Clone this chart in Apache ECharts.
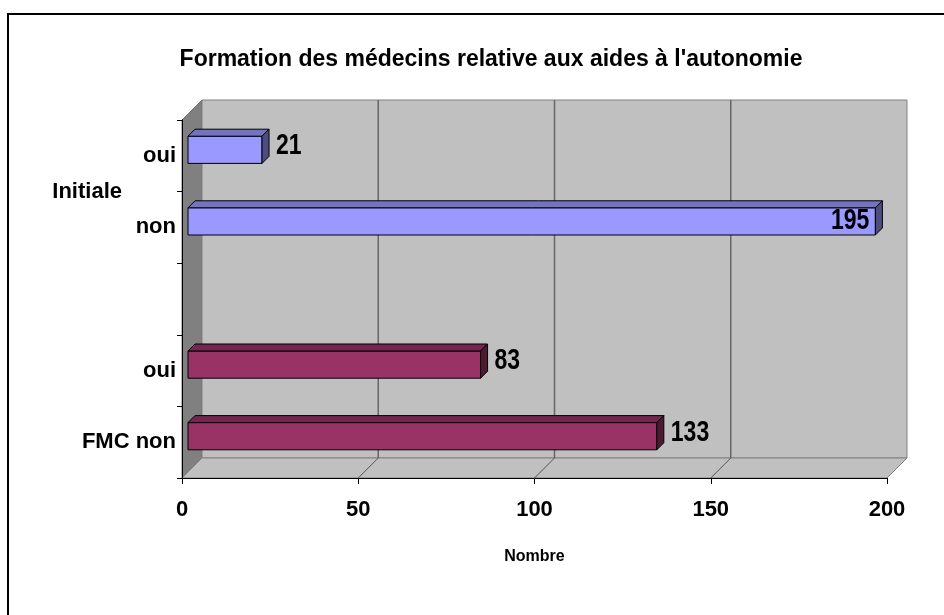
<!DOCTYPE html>
<html>
<head>
<meta charset="utf-8">
<script src="https://cdn.jsdelivr.net/npm/echarts@6/dist/echarts.min.js"></script>
<style>
  html, body { margin: 0; padding: 0; background: #ffffff; }
  #chart { width: 944px; height: 615px; }
</style>
</head>
<body>
<div id="chart"></div>
<script>
// ---- data ----
const titleText = "Formation des médecins relative aux aides à l'autonomie";
const axisName = 'Nombre';
// category rows, bottom to top
const categories = ['FMC non', 'oui', '', 'non', 'oui'];
// group caption drawn between two rows
const groupLabel = 'Initiale';
const groupRows = [3, 4];
const fmcValues = [133, 83, null, null, null];
const initialeValues = [null, null, null, 195, 21];
const xTicks = [0, 50, 100, 150, 200];

// ---- look ----
const FONT = "'Liberation Sans', Arial, sans-serif";
const DEPTH = 20;      // depth of the 3D walls, drawn at 45 degrees
const BAR_FRONT = 6;   // bar front face position inside that depth
const BAR_BACK = 13;   // bar back face position inside that depth
const BAR_RATIO = 0.38;

const xMin = xTicks[0];
const xMax = xTicks[xTicks.length - 1];
const xStep = xTicks[1] - xTicks[0];

function toPairs(values) {
  return values.map((v, i) => (v == null ? null : [v, i])).filter(Boolean);
}

// back wall, side wall, floor and the gridlines projected on them
function renderWalls(params, api) {
  const cs = params.coordSys;
  const gx = cs.x, gy = cs.y, gw = cs.width, gh = cs.height;
  const d = DEPTH;
  const wallStroke = '#808080';
  const children = [
    { type: 'polygon', shape: { points: [[gx, gy], [gx + d, gy - d], [gx + d, gy + gh - d], [gx, gy + gh]] },
      style: { fill: '#808080', stroke: '#707070', lineWidth: 1 } },
    { type: 'rect', shape: { x: gx + d, y: gy - d, width: gw, height: gh },
      style: { fill: '#C0C0C0', stroke: wallStroke, lineWidth: 1 } },
    { type: 'polygon', shape: { points: [[gx, gy + gh], [gx + gw, gy + gh], [gx + gw + d, gy + gh - d], [gx + d, gy + gh - d]] },
      style: { fill: '#C0C0C0', stroke: wallStroke, lineWidth: 1 } }
  ];
  xTicks.forEach(t => {
    if (t === xMin || t === xMax) return;
    const x = api.coord([t, 0])[0];
    children.push({ type: 'line', shape: { x1: x + d, y1: gy - d, x2: x + d, y2: gy + gh - d },
      style: { stroke: '#666666', lineWidth: 1.5 } });
    children.push({ type: 'line', shape: { x1: x, y1: gy + gh, x2: x + d, y2: gy + gh - d },
      style: { stroke: '#555555', lineWidth: 1 } });
  });
  // group caption to the left of its two rows
  const ya = api.coord([0, groupRows[0]])[1];
  const yb = api.coord([0, groupRows[1]])[1];
  children.push({ type: 'text', style: { text: groupLabel, x: gx - 60, y: (ya + yb) / 2,
    align: 'right', verticalAlign: 'middle', font: `bold 22px ${FONT}`, fill: '#000' } });
  return { type: 'group', children };
}

function makeBarRenderer(front, top, side) {
  return function (params, api) {
    const cs = params.coordSys;
    const v = api.value(0);
    const row = api.value(1);
    const p0 = api.coord([0, row]);
    const p1 = api.coord([v, row]);
    const h = api.size([0, 1])[1] * BAR_RATIO;
    const f = BAR_FRONT;
    const d = BAR_BACK - BAR_FRONT;
    const x0 = p0[0] + f;
    const x1 = p1[0] + f;
    const yT = p0[1] - f - h / 2;
    const yB = yT + h;
    const edge = { stroke: '#000', lineWidth: 1, lineJoin: 'round' };
    const children = [
      { type: 'rect', shape: { x: x0, y: yT, width: x1 - x0, height: h }, style: Object.assign({ fill: front }, edge) },
      { type: 'polygon', shape: { points: [[x0, yT], [x1, yT], [x1 + d, yT - d], [x0 + d, yT - d]] }, style: Object.assign({ fill: top }, edge) },
      { type: 'polygon', shape: { points: [[x1, yT], [x1 + d, yT - d], [x1 + d, yB - d], [x1, yB]] }, style: Object.assign({ fill: side }, edge) }
    ];
    // value label: beside the bar, or inside its end when there is no room
    const wallRight = cs.x + cs.width + DEPTH;
    const outX = x1 + d + 7;
    const inside = outX + 45 > wallRight;
    const lx = inside ? x1 - 6 : outX;
    const ly = inside ? (yT + yB) / 2 : (yT + yB) / 2 - d / 2;
    children.push({
      type: 'text', x: lx, y: ly, scaleY: 1.25,
      style: { text: String(v), x: 0, y: 0,
        align: inside ? 'right' : 'left', verticalAlign: 'middle',
        font: `bold 23px ${FONT}`, fill: '#000' }
    });
    return { type: 'group', children };
  };
}

const chart = echarts.init(document.getElementById('chart'), null, { renderer: 'canvas' });
chart.setOption({
  animation: false,
  backgroundColor: '#ffffff',
  title: {
    text: titleText, left: 486, top: 43, textAlign: 'center',
    textStyle: { fontFamily: FONT, fontWeight: 'bold', fontSize: 23, color: '#000' }
  },
  graphic: [{
    type: 'rect', shape: { x: 8, y: 14, width: 1000, height: 700 },
    style: { fill: 'none', stroke: '#000', lineWidth: 2 }, silent: true
  }],
  grid: { left: 182, right: 57, top: 120, bottom: 137 },
  xAxis: {
    type: 'value', min: xMin, max: xMax, interval: xStep, z: 3,
    axisLine: { show: true, lineStyle: { color: '#000', width: 1 } },
    axisTick: { show: true, length: 6, lineStyle: { color: '#000' } },
    splitLine: { show: false },
    axisLabel: { margin: 21, color: '#000', fontFamily: FONT, fontWeight: 'bold', fontSize: 22 },
    name: axisName, nameLocation: 'middle', nameGap: 71,
    nameTextStyle: { color: '#000', fontFamily: FONT, fontWeight: 'bold', fontSize: 16 }
  },
  yAxis: {
    type: 'category', data: categories, z: 3,
    axisLine: { show: true, lineStyle: { color: '#000', width: 1 } },
    axisTick: { show: true, length: 5, lineStyle: { color: '#000' } },
    splitLine: { show: false },
    axisLabel: { margin: 6, color: '#000', fontFamily: FONT, fontWeight: 'bold', fontSize: 22, interval: 0 }
  },
  series: [
    { type: 'custom', name: 'walls', z: 1, silent: true, renderItem: renderWalls, data: [[0, 0]] },
    { type: 'custom', name: 'FMC', z: 4, renderItem: makeBarRenderer('#993366', '#732650', '#4D1A33'),
      encode: { x: 0, y: 1 }, data: toPairs(fmcValues) },
    { type: 'custom', name: 'Initiale', z: 4, renderItem: makeBarRenderer('#9999FF', '#7373C0', '#4D4D80'),
      encode: { x: 0, y: 1 }, data: toPairs(initialeValues) }
  ]
});
</script>
</body>
</html>
